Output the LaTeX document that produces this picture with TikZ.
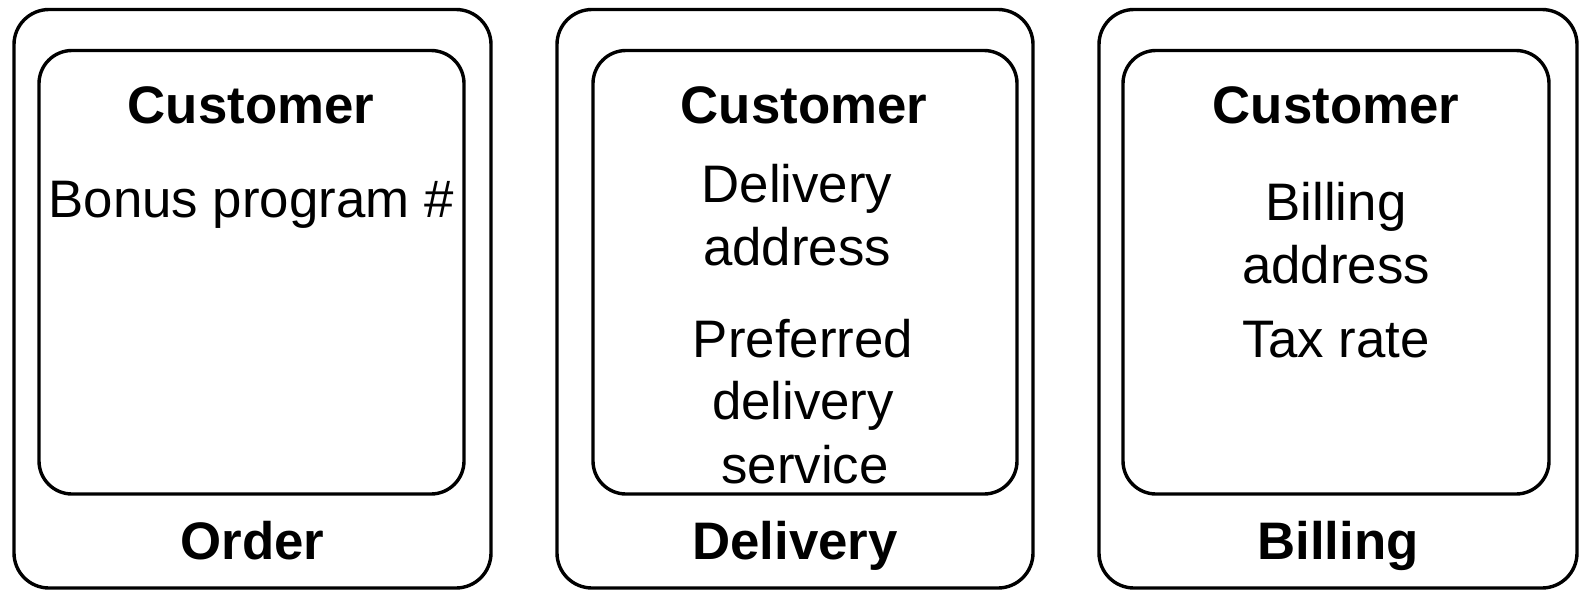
\documentclass[tikz,border=0pt]{standalone}
\usepackage{fontspec}
\setmainfont{Liberation Sans}
\begin{document}
\begin{tikzpicture}[x=0.5pt,y=-0.5pt,
  outerbox/.style={draw=black,line width=1.7pt,rounded corners=17.5pt},
  innerbox/.style={draw=black,line width=1.7pt,rounded corners=16.5pt},
  txt/.style={anchor=base,inner sep=0pt,font=\fontsize{26.4}{31.7}\selectfont},
  btxt/.style={txt,font=\fontsize{26.4}{31.7}\selectfont\bfseries}]
\useasboundingbox (0,0) rectangle (1586,596);
% boxes
\draw[outerbox] (14,9.5) rectangle (491,588);
\draw[innerbox] (39,50.5) rectangle (464,494);
\draw[outerbox] (557,9.5) rectangle (1033,588);
\draw[innerbox] (593,50.5) rectangle (1017,494);
\draw[outerbox] (1099,9.5) rectangle (1577,588);
\draw[innerbox] (1123,50.5) rectangle (1549,494);
% box 1
\node[btxt] (c1) at (251,123) {Customer};
\node[txt] (b1) at (251,217) {Bonus program \#};
\node[btxt] (o1) at (252.5,559) {Order};
% box 2
\node[btxt] (c2) at (804,123) {Customer};
\node[txt] (d2a) at (797,202) {Delivery};
\node[txt] (d2b) at (797,265) {address};
\node[txt] (p2a) at (803,357) {Preferred};
\node[txt] (p2b) at (803,419) {delivery};
\node[txt] (p2c) at (805,483) {service};
\node[btxt] (o2) at (795,559) {Delivery};
% box 3
\node[btxt] (c3) at (1336,123) {Customer};
\node[txt] (b3a) at (1336,220) {Billing};
\node[txt] (b3b) at (1336,283) {address};
\node[txt] (t3) at (1336,357) {Tax rate};
\node[btxt] (o3) at (1338,559) {Billing};
\end{tikzpicture}
\end{document}
